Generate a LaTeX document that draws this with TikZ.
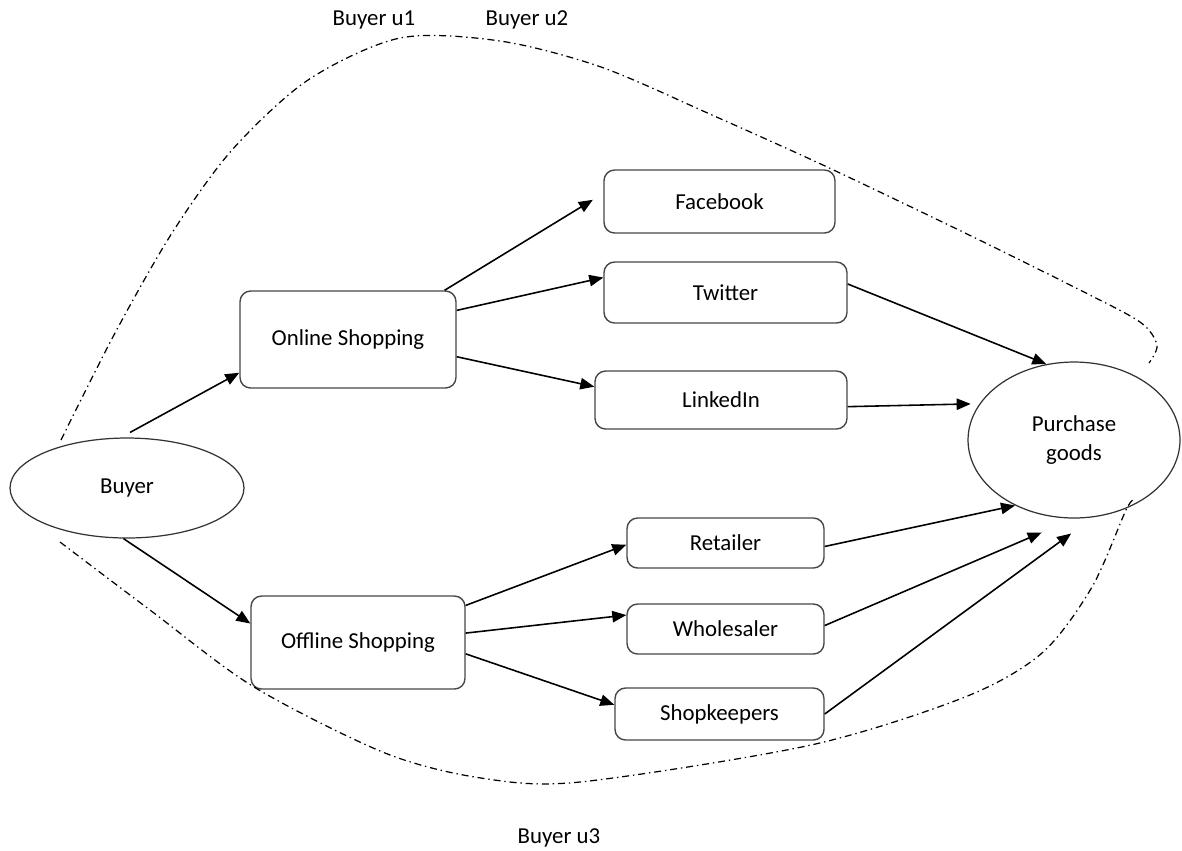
\documentclass[tikz,border=0pt]{standalone}
\usepackage{fontspec}
\setmainfont{Carlito}
\usetikzlibrary{arrows.meta,shapes.geometric}

\begin{document}
\begin{tikzpicture}[x=0.02cm,y=-0.02cm,
                font=\fontsize{13}{16.4}\selectfont,
                box/.style={draw=black!72, line width=0.8pt, rounded corners=6pt, inner sep=0pt, align=center},
                oval/.style={ellipse, draw=black!80, line width=0.7pt, inner sep=0pt, align=center},
                link/.style={-{Triangle[length=8pt,width=6.5pt]}, line width=0.9pt},
                bound/.style={line width=0.7pt, dash pattern=on 4pt off 2.2pt on 0.8pt off 2.2pt}]
                \useasboundingbox (0,0) rectangle (1182,850);

                \node[oval, minimum width=4.68cm, minimum height=2cm] (buyer) at (127,488) {Buyer};
                \node[oval, minimum width=4.24cm, minimum height=3.12cm] (purchase) at (1074,440) {Purchase\\goods};

                \node[box, minimum width=4.32cm, minimum height=1.94cm] (online) at (348,339.5) {Online Shopping};
                \node[box, minimum width=4.28cm, minimum height=1.86cm] (offline) at (358,642.5) {Offline Shopping};

                \node[box, minimum width=4.62cm, minimum height=1.26cm] (facebook) at (719.5,201.5) {Facebook};
                \node[box, minimum width=4.86cm, minimum height=1.22cm] (twitter) at (725.5,292.5) {Twitter};
                \node[box, minimum width=5.04cm, minimum height=1.16cm] (linkedin) at (721,400) {LinkedIn};
                \node[box, minimum width=3.94cm, minimum height=1cm] (retailer) at (725.5,543) {Retailer};
                \node[box, minimum width=3.94cm, minimum height=1cm] (wholesaler) at (725.5,629) {Wholesaler};
                \node[box, minimum width=4.18cm, minimum height=1.04cm] (shopkeepers) at (719.5,714) {Shopkeepers};

                \node (u1) at (374,20) {Buyer u1};
                \node (u2) at (527,20) {Buyer u2};
                \node (u3) at (559,838) {Buyer u3};

                \draw[link, shorten <=6pt] (buyer.97) -- (online.197.7);
                \draw[link] (buyer.266) -- (offline.170.2);

                \draw[link, shorten >=7pt] (online.27) -- (facebook.176);
                \draw[link] (online.15.3) -- (twitter.173.7);
                \draw[link] (online.-9.7) -- (linkedin.174.1);

                \draw[link] (offline.19.8) -- (retailer.181.7);
                \draw[link] (offline.5.1) -- (wholesaler.172.5);
                \draw[link] (offline.-6.7) -- (shopkeepers.175.6);

                \draw[link] (twitter.4.9) -- (purchase.110);
                \draw[link, shorten >=5pt] (linkedin.-3.2) -- (purchase.159.8);
                \draw[link] (retailer.-2.3) -- (purchase.228.4);
                \draw[link, shorten >=20pt] (wholesaler.2.9) -- (purchase.south);
                \draw[link, shorten >=15.6pt] (shopkeepers.east) -- (purchase.284.6);

                \draw[bound] plot[smooth] coordinates {(61,440) (115,333) (172,233) (232,150) (308,80) (400,38) (500,41) (601,67) (712,115) (825,166) (965,233) (1080,290) (1140,322) (1157,345) (1149,363)};
                \draw[bound] plot[smooth] coordinates {(60,542) (150,610) (254,687) (385,753) (481,778) (580,782) (811,745) (965,697) (1042,653) (1092,587) (1126,510) (1134,500)};
            \end{tikzpicture}
\end{document}
